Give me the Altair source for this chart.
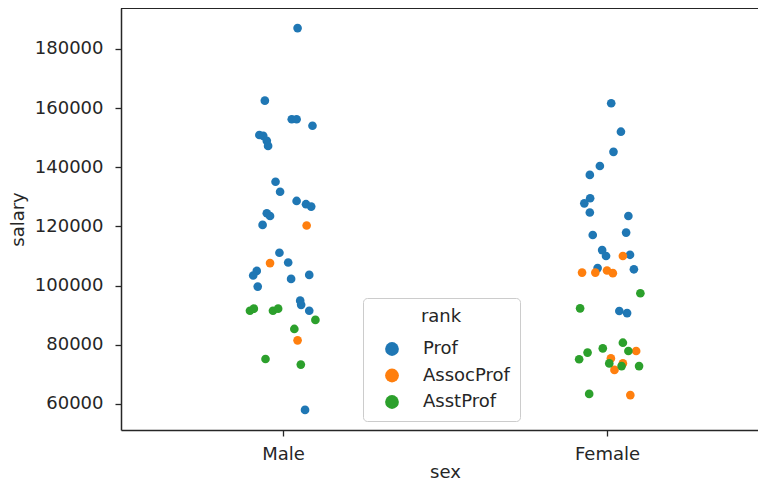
import altair as alt
import pandas as pd

sex_categories = ["Male", "Female"]
rank_levels = ["Prof", "AssocProf", "AsstProf"]
rank_colors = ["#1f77b4", "#ff7f0e", "#2ca02c"]
y_ticks = [60000, 80000, 100000, 120000, 140000, 160000, 180000]

# Male
male_prof_salary = [187000, 162500, 156200, 156200, 154000, 150900, 150600, 148900, 147200,
                    135100, 131700, 128600, 127500, 126700, 124450, 123500, 120500, 111100,
                    107800, 104950, 103400, 102250, 103600, 99650, 94900, 93500, 91500, 58000]
male_prof_jitter = [0.045, -0.056, 0.027, 0.042, 0.091, -0.073, -0.061, -0.050, -0.046,
                    -0.023, -0.009, 0.042, 0.071, 0.087, -0.050, -0.040, -0.063, -0.011,
                    0.016, -0.081, -0.092, 0.025, 0.081, -0.078, 0.053, 0.056, 0.081, 0.068]
male_assoc_salary = [120300, 107600, 81500]
male_assoc_jitter = [0.073, -0.040, 0.045]
male_asst_salary = [91500, 92200, 91500, 92200, 88400, 85350, 75200, 73300]
male_asst_jitter = [-0.102, -0.090, -0.031, -0.015, 0.100, 0.035, -0.054, 0.055]

# Female
female_prof_salary = [161600, 152000, 145200, 140400, 137400, 129500, 127800, 124700, 123500,
                      117900, 117100, 112000, 110000, 110400, 105900, 105500, 91400, 90700]
female_prof_jitter = [0.013, 0.043, 0.020, -0.022, -0.053, -0.052, -0.070, -0.053, 0.066,
                      0.059, -0.044, -0.015, -0.003, 0.071, -0.029, 0.083, 0.038, 0.062]
female_assoc_salary = [110000, 104400, 104400, 105100, 104200, 77900, 75400, 73700, 71500, 63000]
female_assoc_jitter = [0.049, -0.077, -0.036, 0.000, 0.018, 0.090, 0.012, 0.049, 0.023, 0.072]
female_asst_salary = [97400, 92300, 80700, 78800, 77900, 77350, 75100, 73700, 72800, 72800, 63400]
female_asst_jitter = [0.103, -0.083, 0.049, -0.013, 0.066, -0.060, -0.086, 0.007, 0.099, 0.045, -0.055]

groups = [
    ("Male", "Prof", male_prof_salary, male_prof_jitter),
    ("Male", "AssocProf", male_assoc_salary, male_assoc_jitter),
    ("Male", "AsstProf", male_asst_salary, male_asst_jitter),
    ("Female", "Prof", female_prof_salary, female_prof_jitter),
    ("Female", "AssocProf", female_assoc_salary, female_assoc_jitter),
    ("Female", "AsstProf", female_asst_salary, female_asst_jitter),
]

rows = []
for sex, rank, sal, jit in groups:
    idx = sex_categories.index(sex)
    for s, j in zip(sal, jit):
        rows.append({"sex": sex, "rank": rank, "salary": s, "pos": idx + j})
df = pd.DataFrame(rows)
df["order"] = range(len(df))

FONT = "DejaVu Sans"
TXT = "#262626"
PLOT_W = 637
PLOT_H = 422
UNIT = 324.0
x_domain = [-0.5, -0.5 + PLOT_W / UNIT]

label_expr = " : ".join(
    [f"datum.value == {i} ? '{c}'" for i, c in enumerate(sex_categories)]
) + " : ''"

points = alt.Chart(df).mark_circle(size=75, opacity=1).encode(
    x=alt.X("pos:Q",
            scale=alt.Scale(domain=x_domain, nice=False, zero=False),
            axis=alt.Axis(values=list(range(len(sex_categories))), labelExpr=label_expr,
                          title="sex", grid=False, domain=True, tickSize=6, tickWidth=1.3,
                          tickColor=TXT, labelPadding=9, titlePadding=0, titleX=324)),
    y=alt.Y("salary:Q",
            scale=alt.Scale(domain=[51200, 193800], nice=False, zero=False),
            axis=alt.Axis(values=y_ticks, format="d", title="salary", grid=False,
                          domain=True, tickSize=6, tickWidth=1.3, tickColor=TXT,
                          labelPadding=12, titlePadding=7)),
    color=alt.Color("rank:N",
                    scale=alt.Scale(domain=rank_levels, range=rank_colors),
                    legend=alt.Legend(title="rank", orient="none", legendX=242, legendY=290,
                                      symbolType="circle", symbolSize=190, symbolStrokeWidth=0,
                                      symbolOffset=10, labelOffset=22, rowPadding=8.5,
                                      padding=10, titlePadding=14, titleAnchor="middle",
                                      labelExpr="datum.label + '\u00a0\u00a0\u00a0\u00a0\u00a0'",
                                      fillColor="white", strokeColor="#cccccc",
                                      cornerRadius=4)),
    order=alt.Order("order:Q"),
)

top_spine = alt.Chart(df).mark_rule(color=TXT, strokeWidth=1.5).encode(
    x=alt.value(0), x2=alt.value(PLOT_W + 10), y=alt.value(0)
)

chart = alt.layer(points, top_spine).properties(
    width=PLOT_W, height=PLOT_H,
    autosize=alt.AutoSizeParams(type="none"),
    padding={"left": 113, "top": 0, "right": 0, "bottom": 52},
).configure_view(
    stroke=None
).configure_axis(
    labelFont=FONT, titleFont=FONT, labelFontSize=18, titleFontSize=18,
    labelColor=TXT, titleColor=TXT, titleFontWeight="normal",
    domainColor=TXT, domainWidth=1.5
).configure_legend(
    labelFont=FONT, titleFont=FONT, labelFontSize=18, titleFontSize=18,
    labelColor=TXT, titleColor=TXT, titleFontWeight="normal"
)

chart.save("out.html", embed_options={"renderer": "svg", "actions": False})
